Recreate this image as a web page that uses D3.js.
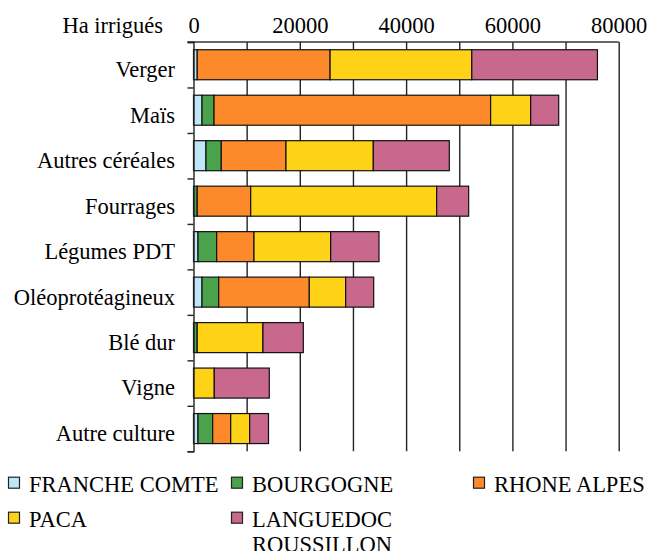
<!DOCTYPE html>
<html>
<head>
<meta charset="utf-8">
<script src="https://cdn.jsdelivr.net/npm/d3@7"></script>
<style>
body { margin: 0; background: #fff; }
svg text { font-family: "Liberation Serif", "Times New Roman", serif; font-size: 22.5px; fill: #000; }
</style>
</head>
<body>
<svg></svg>
<script>
var width = 650;
var height = 551;

// categories (top to bottom)
var cultures = ["Verger", "Maïs", "Autres céréales", "Fourrages", "Légumes PDT",
                "Oléoprotéagineux", "Blé dur", "Vigne", "Autre culture"];
// regions (stack order)
var regions = ["FRANCHE COMTE", "BOURGOGNE", "RHONE ALPES", "PACA", "LANGUEDOC ROUSSILLON"];
var colors = ["#bfe6f7", "#4aa34a", "#fd8a2a", "#fed217", "#c8688c"];
// irrigated hectares per region, one value per culture
var francheComte = [700, 1600, 2350, 0, 850, 1600, 0, 0, 850];
var bourgogne    = [0, 2260, 2880, 700, 3510, 3140, 700, 0, 2760];
var rhoneAlpes   = [25000, 52040, 12170, 10060, 7020, 17050, 0, 0, 3390];
var paca         = [26660, 7540, 16430, 34990, 14430, 6840, 12370, 3910, 3570];
var languedoc    = [23640, 5270, 14300, 6020, 9090, 5270, 7590, 10350, 3540];
var xTicks = [0, 20000, 40000, 60000, 80000];
var gridTicks = [10000, 20000, 30000, 40000, 50000, 60000, 70000, 80000];

var table = cultures.map(function(c, i) {
    return {
        culture: c,
        "FRANCHE COMTE": francheComte[i],
        "BOURGOGNE": bourgogne[i],
        "RHONE ALPES": rhoneAlpes[i],
        "PACA": paca[i],
        "LANGUEDOC ROUSSILLON": languedoc[i]
    };
});

var plotLeft = 193.5, plotRight = 618.7, plotTop = 42, plotBottom = 451.3;

var svg = d3.select("svg")
    .attr("width", width)
    .attr("height", height);

var xScale = d3.scaleLinear().domain([0, 80000]).range([plotLeft, plotRight]);
var yScale = d3.scaleBand().domain(cultures).range([plotTop, plotBottom])
    .paddingInner(0.34).paddingOuter(0.17);
var yEdges = d3.scaleLinear().domain([0, cultures.length]).range([plotTop, plotBottom]);
var colorScale = d3.scaleOrdinal().domain(regions).range(colors);

//grid lines
svg.append("g")
    .attr("transform", "translate(0," + plotBottom + ")")
    .call(d3.axisBottom(xScale).tickValues(gridTicks).tickSize(-(plotBottom - plotTop)).tickFormat(""))
    .call(g => g.select(".domain").remove())
    .call(g => g.selectAll(".tick line").attr("stroke", "#222").attr("stroke-width", 1.4));

//top axis with labels
svg.append("g")
    .attr("transform", "translate(0," + plotTop + ")")
    .call(d3.axisTop(xScale).tickValues(xTicks).tickSize(0).tickPadding(9).tickFormat(d3.format("d")))
    .call(g => g.select(".domain").remove())
    .call(g => g.attr("font-family", null).attr("font-size", null));
svg.append("line")
    .attr("x1", plotLeft - 6).attr("x2", plotRight)
    .attr("y1", plotTop).attr("y2", plotTop)
    .attr("stroke", "#333").attr("stroke-width", 1.4);

//stacked bars
var stack = d3.stack().keys(regions)(table);
svg.append("g")
    .selectAll("g")
    .data(stack)
    .enter()
    .append("g")
        .attr("fill", d => colorScale(d.key))
    .selectAll("rect")
    .data(d => d.filter(s => s[1] > s[0]))
    .enter()
    .append("rect")
        .attr("x", d => xScale(d[0]))
        .attr("y", d => yScale(d.data.culture))
        .attr("width", d => xScale(d[1]) - xScale(d[0]))
        .attr("height", yScale.bandwidth())
        .attr("stroke", "#111")
        .attr("stroke-width", 1.2);

//left axis, ticks between categories
svg.append("g")
    .attr("transform", "translate(" + plotLeft + ",0)")
    .call(d3.axisLeft(yEdges).ticks(cultures.length).tickSize(6).tickFormat(""))
    .call(g => g.selectAll("path, line").attr("stroke", "#222").attr("stroke-width", 1.4));

//category labels
svg.append("g")
    .selectAll("text")
    .data(cultures)
    .enter()
    .append("text")
        .attr("x", 175)
        .attr("y", d => yScale(d) + yScale.bandwidth() / 2)
        .attr("dy", "0.55em")
        .style("text-anchor", "end")
        .text(d => d);

//axis title
svg.append("text")
    .attr("x", 163)
    .attr("y", 33)
    .style("text-anchor", "end")
    .text("Ha irrigués");

//legend
var legendPos = [[8, 491.7], [231, 491.7], [473, 491.7], [8, 526.7], [231, 526.7]];
var legend = svg.append("g")
    .selectAll("g")
    .data(regions)
    .enter()
    .append("g")
        .attr("transform", (d, i) => "translate(" + legendPos[i][0] + "," + legendPos[i][1] + ")");
legend.append("rect")
    .attr("x", 0.5).attr("y", -14.5)
    .attr("width", 11).attr("height", 11)
    .attr("fill", d => colorScale(d))
    .attr("stroke", "#222").attr("stroke-width", 1.2);
legend.append("text")
    .attr("x", 21)
    .selectAll("tspan")
    .data(d => d === "LANGUEDOC ROUSSILLON" ? ["LANGUEDOC", "ROUSSILLON"] : [d])
    .enter()
    .append("tspan")
        .attr("x", 21)
        .attr("dy", (d, i) => i === 0 ? 0 : 25)
        .text(d => d);
</script>
</body>
</html>
